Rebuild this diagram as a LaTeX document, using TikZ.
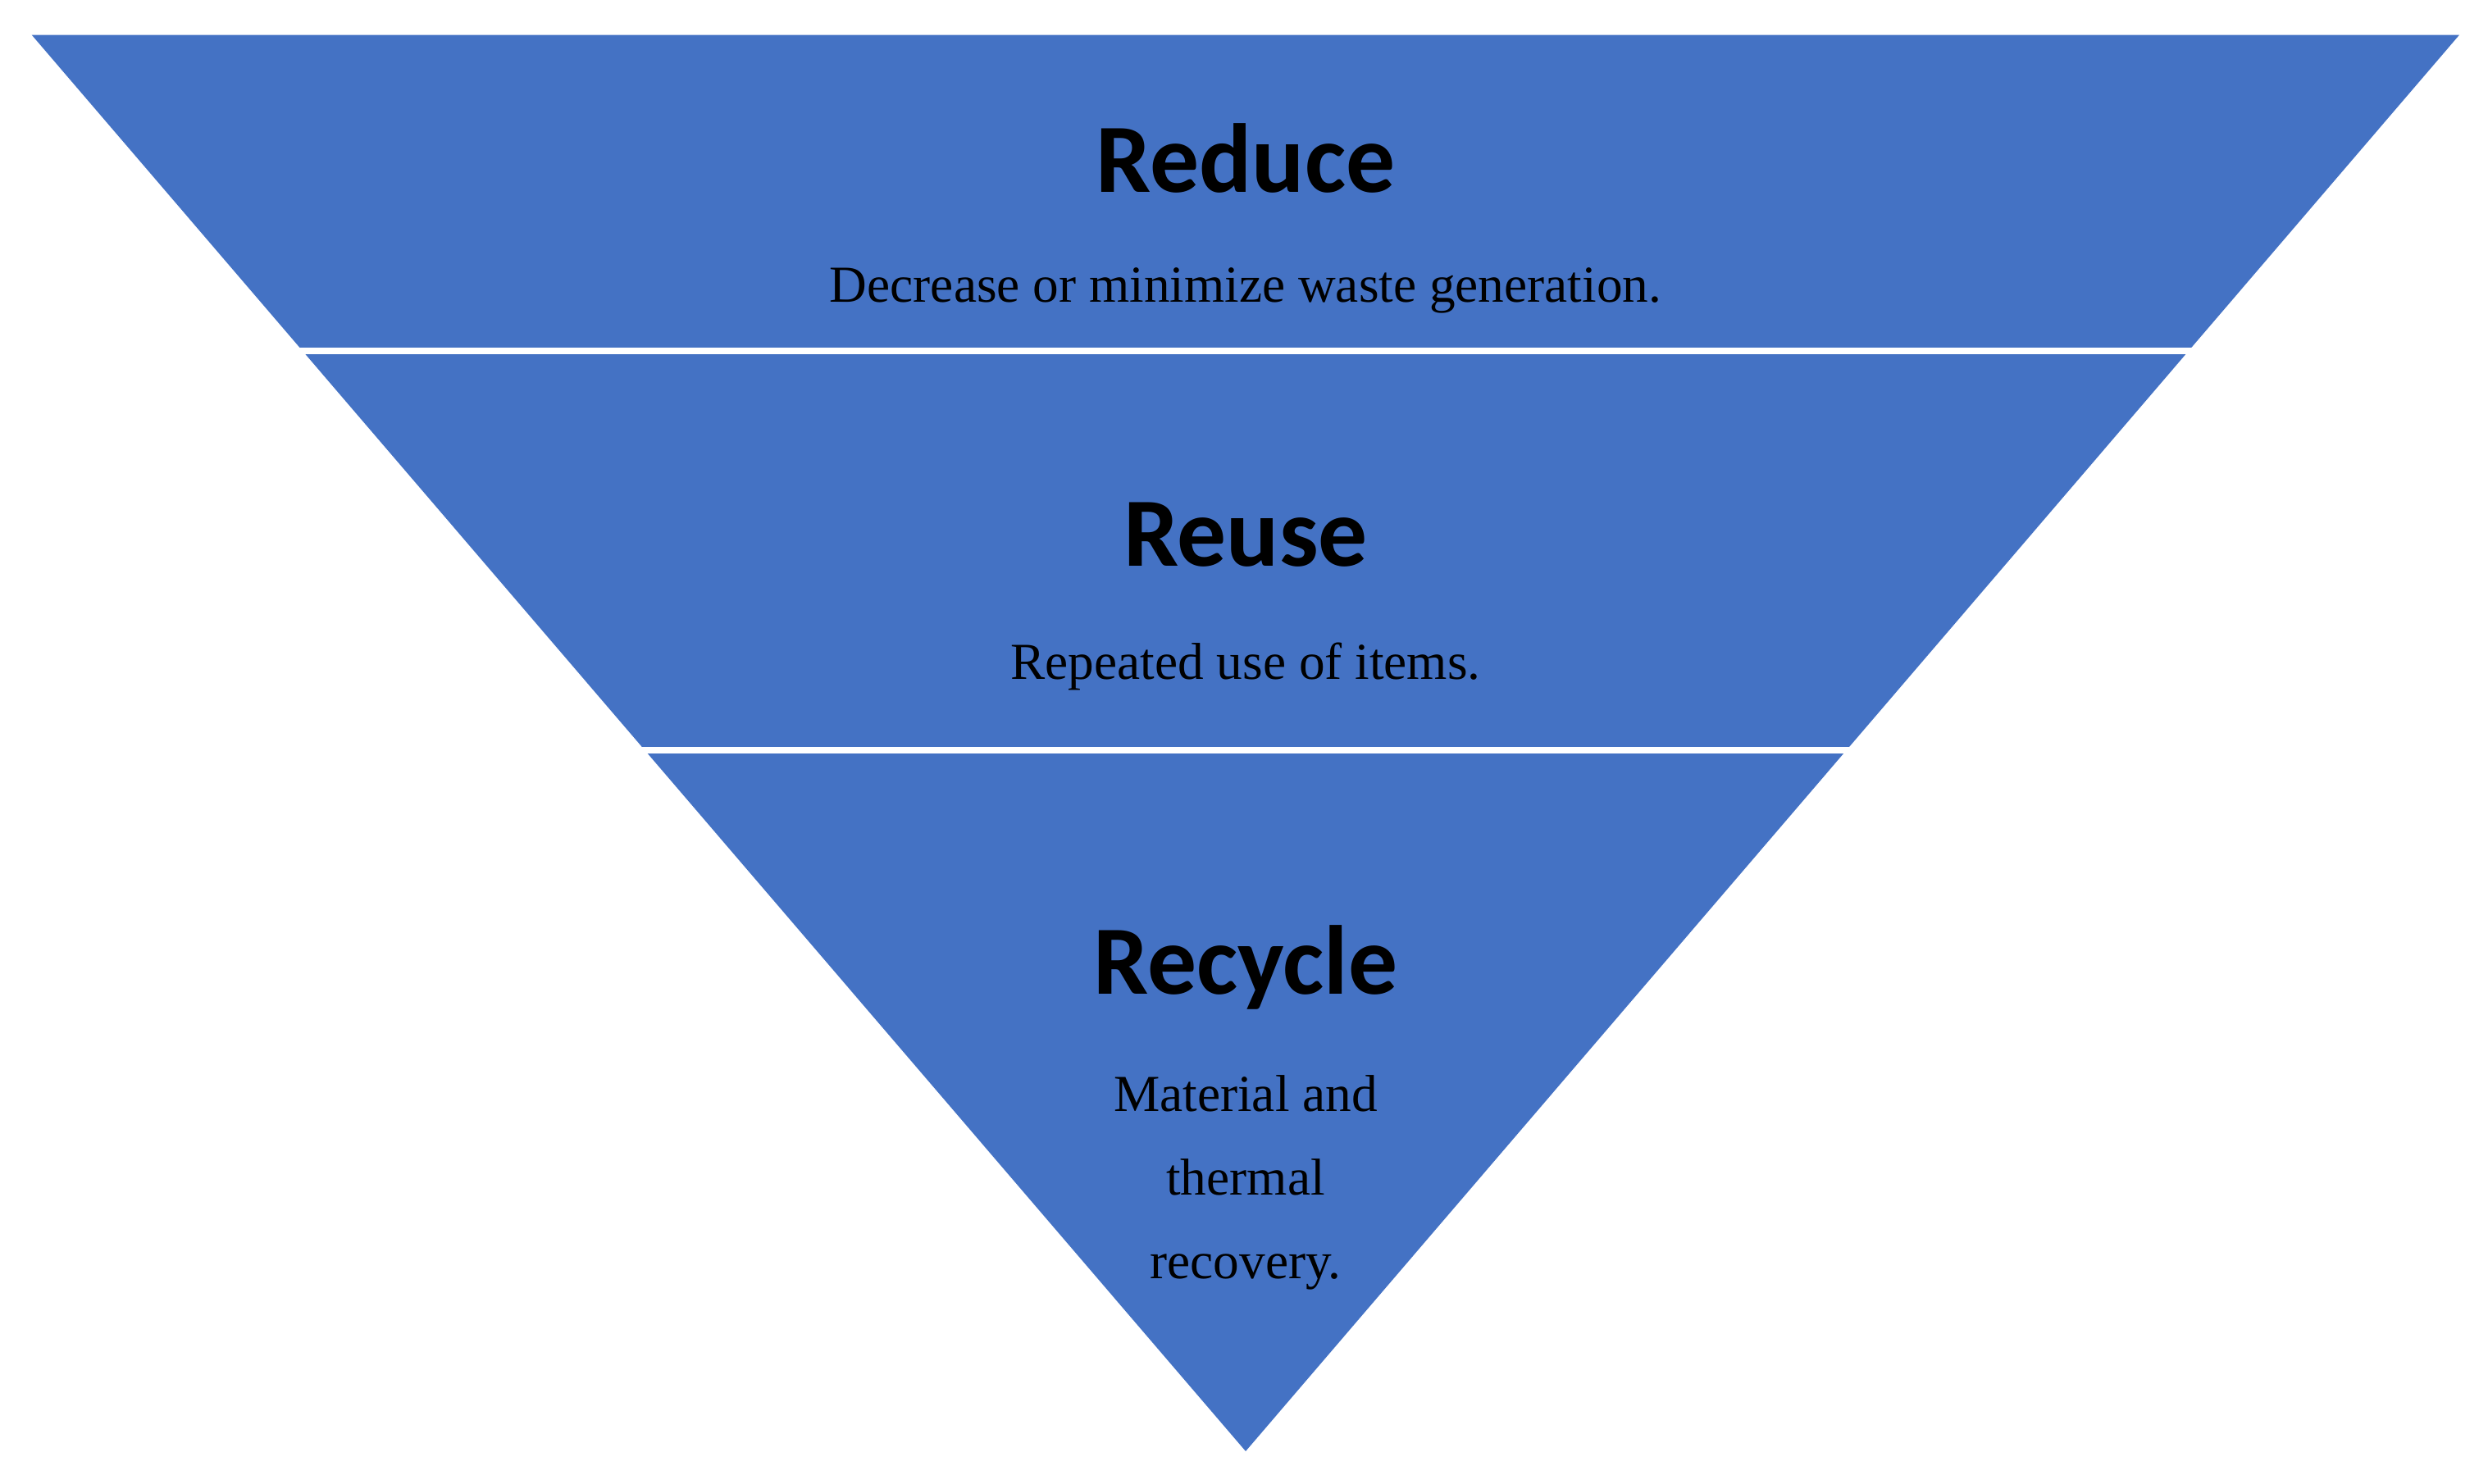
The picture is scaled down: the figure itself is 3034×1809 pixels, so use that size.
\documentclass[tikz,border=0pt]{standalone}
\usepackage{fontspec}
\setmainfont{Liberation Serif}
\newfontfamily\titlefont{Carlito}
\definecolor{band}{HTML}{4472C4}
\begin{document}
\begin{tikzpicture}[x=0.01cm,y=-0.01cm,
  ttl/.style={font=\titlefont\bfseries\fontsize{34}{40}\selectfont, text=black},
  body/.style={font=\fontsize{18}{29}\selectfont, text=black, align=center}]
\useasboundingbox (0,0) rectangle (3034,1809);
\fill[band] (38.7,42.6) -- (2999,42.6) -- (1519,1770) -- cycle;
\draw[white,line width=2pt] (300,428) -- (2750,428);
\draw[white,line width=2pt] (700,915) -- (2350,915);
\node[ttl] (t1) at (1519,193) {Reduce};
\node[body] (b1) at (1519,354) {Decrease or minimize waste generation.};
\node[ttl] (t2) at (1519,652) {Reuse};
\node[body] (b2) at (1519,813) {Repeated use of items.};
\node[ttl] (t3) at (1519,1180) {Recycle};
\node[body] (b3) at (1519,1442) {Material and\\thermal\\recovery.};
\end{tikzpicture}
\end{document}
